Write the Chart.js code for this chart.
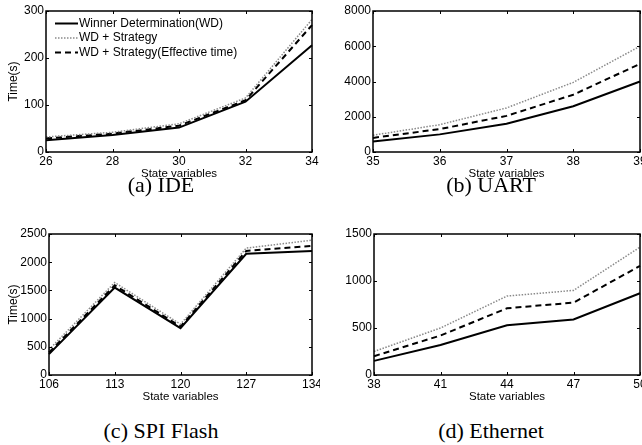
<!DOCTYPE html>
<html>
<head>
<meta charset="utf-8">
<script src="https://cdn.jsdelivr.net/npm/chart.js@4/dist/chart.umd.min.js"></script>
<style>
  body { margin: 0; background: #fff; }
  #page { position: relative; width: 642px; height: 445px; overflow: hidden; }
  .panel { position: absolute; }
  .caption {
    position: absolute; width: 200px; text-align: center;
    font-family: "Liberation Serif", serif; font-size: 22px; color: #000;
    line-height: 24px;
  }
</style>
</head>
<body>
<div id="page">
  <div class="panel" style="left:0;top:0"><canvas id="chart-ide" width="320" height="182"></canvas></div>
  <div class="panel" style="left:320px;top:0"><canvas id="chart-uart" width="322" height="182"></canvas></div>
  <div class="panel" style="left:0;top:223px"><canvas id="chart-spi" width="320" height="182"></canvas></div>
  <div class="panel" style="left:320px;top:223px"><canvas id="chart-eth" width="322" height="182"></canvas></div>
  <div class="caption" style="left:61px;top:173px">(a) IDE</div>
  <div class="caption" style="left:391px;top:173px">(b) UART</div>
  <div class="caption" style="left:61px;top:419px">(c) SPI Flash</div>
  <div class="caption" style="left:391px;top:419px">(d) Ethernet</div>
</div>
<script>
const seriesNames = ['Winner Determination(WD)', 'WD + Strategy', 'WD + Strategy(Effective time)'];

const ideX = ['26', '28', '30', '32', '34'];
const ideWD = [25, 36, 52, 107, 227];
const ideStrategy = [32, 42, 60, 115, 282];
const ideEffective = [29, 39, 56, 110, 270];
const ideYTicks = [0, 100, 200, 300];

const uartX = ['35', '36', '37', '38', '39'];
const uartWD = [600, 1000, 1600, 2600, 4000];
const uartStrategy = [950, 1550, 2500, 3950, 6000];
const uartEffective = [800, 1300, 2050, 3250, 5000];
const uartYTicks = [0, 2000, 4000, 6000, 8000];

const spiX = ['106', '113', '120', '127', '134'];
const spiWD = [370, 1550, 830, 2150, 2200];
const spiStrategy = [450, 1640, 900, 2250, 2390];
const spiEffective = [400, 1590, 860, 2200, 2290];
const spiYTicks = [0, 500, 1000, 1500, 2000, 2500];

const ethX = ['38', '41', '44', '47', '50'];
const ethWD = [150, 320, 530, 590, 870];
const ethStrategy = [250, 500, 840, 900, 1360];
const ethEffective = [200, 420, 710, 770, 1160];
const ethYTicks = [0, 500, 1000, 1500];

const FONT = 'Liberation Sans';

// matlab style box with inward tick marks
const boxPlugin = {
    id: 'matlabBox',
    afterDraw(chart) {
        const { ctx, chartArea: a, scales } = chart;
        ctx.save();
        ctx.strokeStyle = '#000';
        ctx.lineWidth = 1;
        ctx.setLineDash([]);
        ctx.beginPath();
        scales.x.ticks.forEach((t, i) => {
            const px = Math.round(scales.x.getPixelForTick(i)) + 0.5;
            ctx.moveTo(px, a.bottom); ctx.lineTo(px, a.bottom - 3);
            ctx.moveTo(px, a.top); ctx.lineTo(px, a.top + 3);
        });
        scales.y.ticks.forEach((t, i) => {
            const py = Math.round(scales.y.getPixelForTick(i)) + 0.5;
            ctx.moveTo(a.left, py); ctx.lineTo(a.left + 3, py);
            ctx.moveTo(a.right, py); ctx.lineTo(a.right - 3, py);
        });
        ctx.stroke();
        ctx.lineWidth = 1.5;
        ctx.strokeRect(a.left, a.top, a.right - a.left, a.bottom - a.top);
        ctx.restore();
    }
};

// legend drawn inside the plot, top left
const innerLegend = {
    id: 'innerLegend',
    afterDraw(chart, args, opts) {
        if (!opts.show) return;
        const { ctx, chartArea: a } = chart;
        ctx.save();
        ctx.font = '12px "' + FONT + '"';
        ctx.textBaseline = 'middle';
        ctx.fillStyle = '#000';
        chart.data.datasets.forEach((ds, i) => {
            const y = a.top + 12.5 + i * 14.5;
            const x0 = a.left + 9;
            ctx.strokeStyle = ds.borderColor;
            ctx.lineWidth = ds.borderWidth;
            ctx.setLineDash(ds.borderDash || []);
            ctx.beginPath();
            ctx.moveTo(x0, y); ctx.lineTo(x0 + 23, y);
            ctx.stroke();
            ctx.fillText(ds.label, x0 + 24, y);
        });
        ctx.restore();
    }
};

function makeChart(id, labels, wd, strategy, effective, yTicks, opts) {
    const datasets = [
        { label: seriesNames[0], data: wd, borderColor: '#000', borderWidth: 2 },
        { label: seriesNames[1], data: strategy, borderColor: '#8a8a8a', borderWidth: 1.5, borderDash: [1.5, 1.5] },
        { label: seriesNames[2], data: effective, borderColor: '#000', borderWidth: 2, borderDash: [6, 4] }
    ].map(d => Object.assign(d, { pointRadius: 0, fill: false, tension: 0 }));

    new Chart(document.getElementById(id), {
        type: 'line',
        data: { labels: labels, datasets: datasets },
        plugins: [boxPlugin, innerLegend],
        options: {
            responsive: false,
            animation: false,
            layout: { padding: { top: 11, right: opts.padRight, left: 0, bottom: 0 } },
            scales: {
                x: {
                    offset: false,
                    grid: { display: false, drawTicks: false },
                    border: { display: false },
                    ticks: { color: '#000', font: { family: FONT, size: 12 }, padding: 2, maxRotation: 0, autoSkip: false },
                    title: {
                        display: true, text: 'State variables', color: '#000',
                        font: { family: FONT, size: 11.5 }, padding: { top: 0, bottom: 1 }
                    },
                    // keep the plot box fixed, let the last label run off the edge
                    afterFit: (s) => { s.height = 30; s.paddingLeft = 0; s.paddingRight = 0; }
                },
                y: {
                    min: yTicks[0],
                    max: yTicks[yTicks.length - 1],
                    grid: { display: false, drawTicks: false },
                    border: { display: false },
                    ticks: {
                        stepSize: yTicks[1] - yTicks[0], color: '#000', padding: 2,
                        font: { family: FONT, size: 12 }, callback: (v) => String(v)
                    },
                    title: {
                        display: opts.yTitle, text: 'Time(s)', color: '#000',
                        font: { family: FONT, size: 12 }, padding: { top: 6, bottom: 0 }
                    },
                    afterFit: (s) => { s.width = opts.yWidth; s.paddingTop = 0; s.paddingBottom = 0; }
                }
            },
            plugins: {
                tooltip: { enabled: false },
                legend: { display: false },
                innerLegend: { show: !!opts.legend }
            }
        }
    });
}

makeChart('chart-ide', ideX, ideWD, ideStrategy, ideEffective, ideYTicks, { padRight: 8, yWidth: 46, yTitle: true, legend: true });
makeChart('chart-uart', uartX, uartWD, uartStrategy, uartEffective, uartYTicks, { padRight: 2, yWidth: 53, yTitle: false });
makeChart('chart-spi', spiX, spiWD, spiStrategy, spiEffective, spiYTicks, { padRight: 8, yWidth: 49, yTitle: true });
makeChart('chart-eth', ethX, ethWD, ethStrategy, ethEffective, ethYTicks, { padRight: 2, yWidth: 54, yTitle: false });
</script>
</body>
</html>
